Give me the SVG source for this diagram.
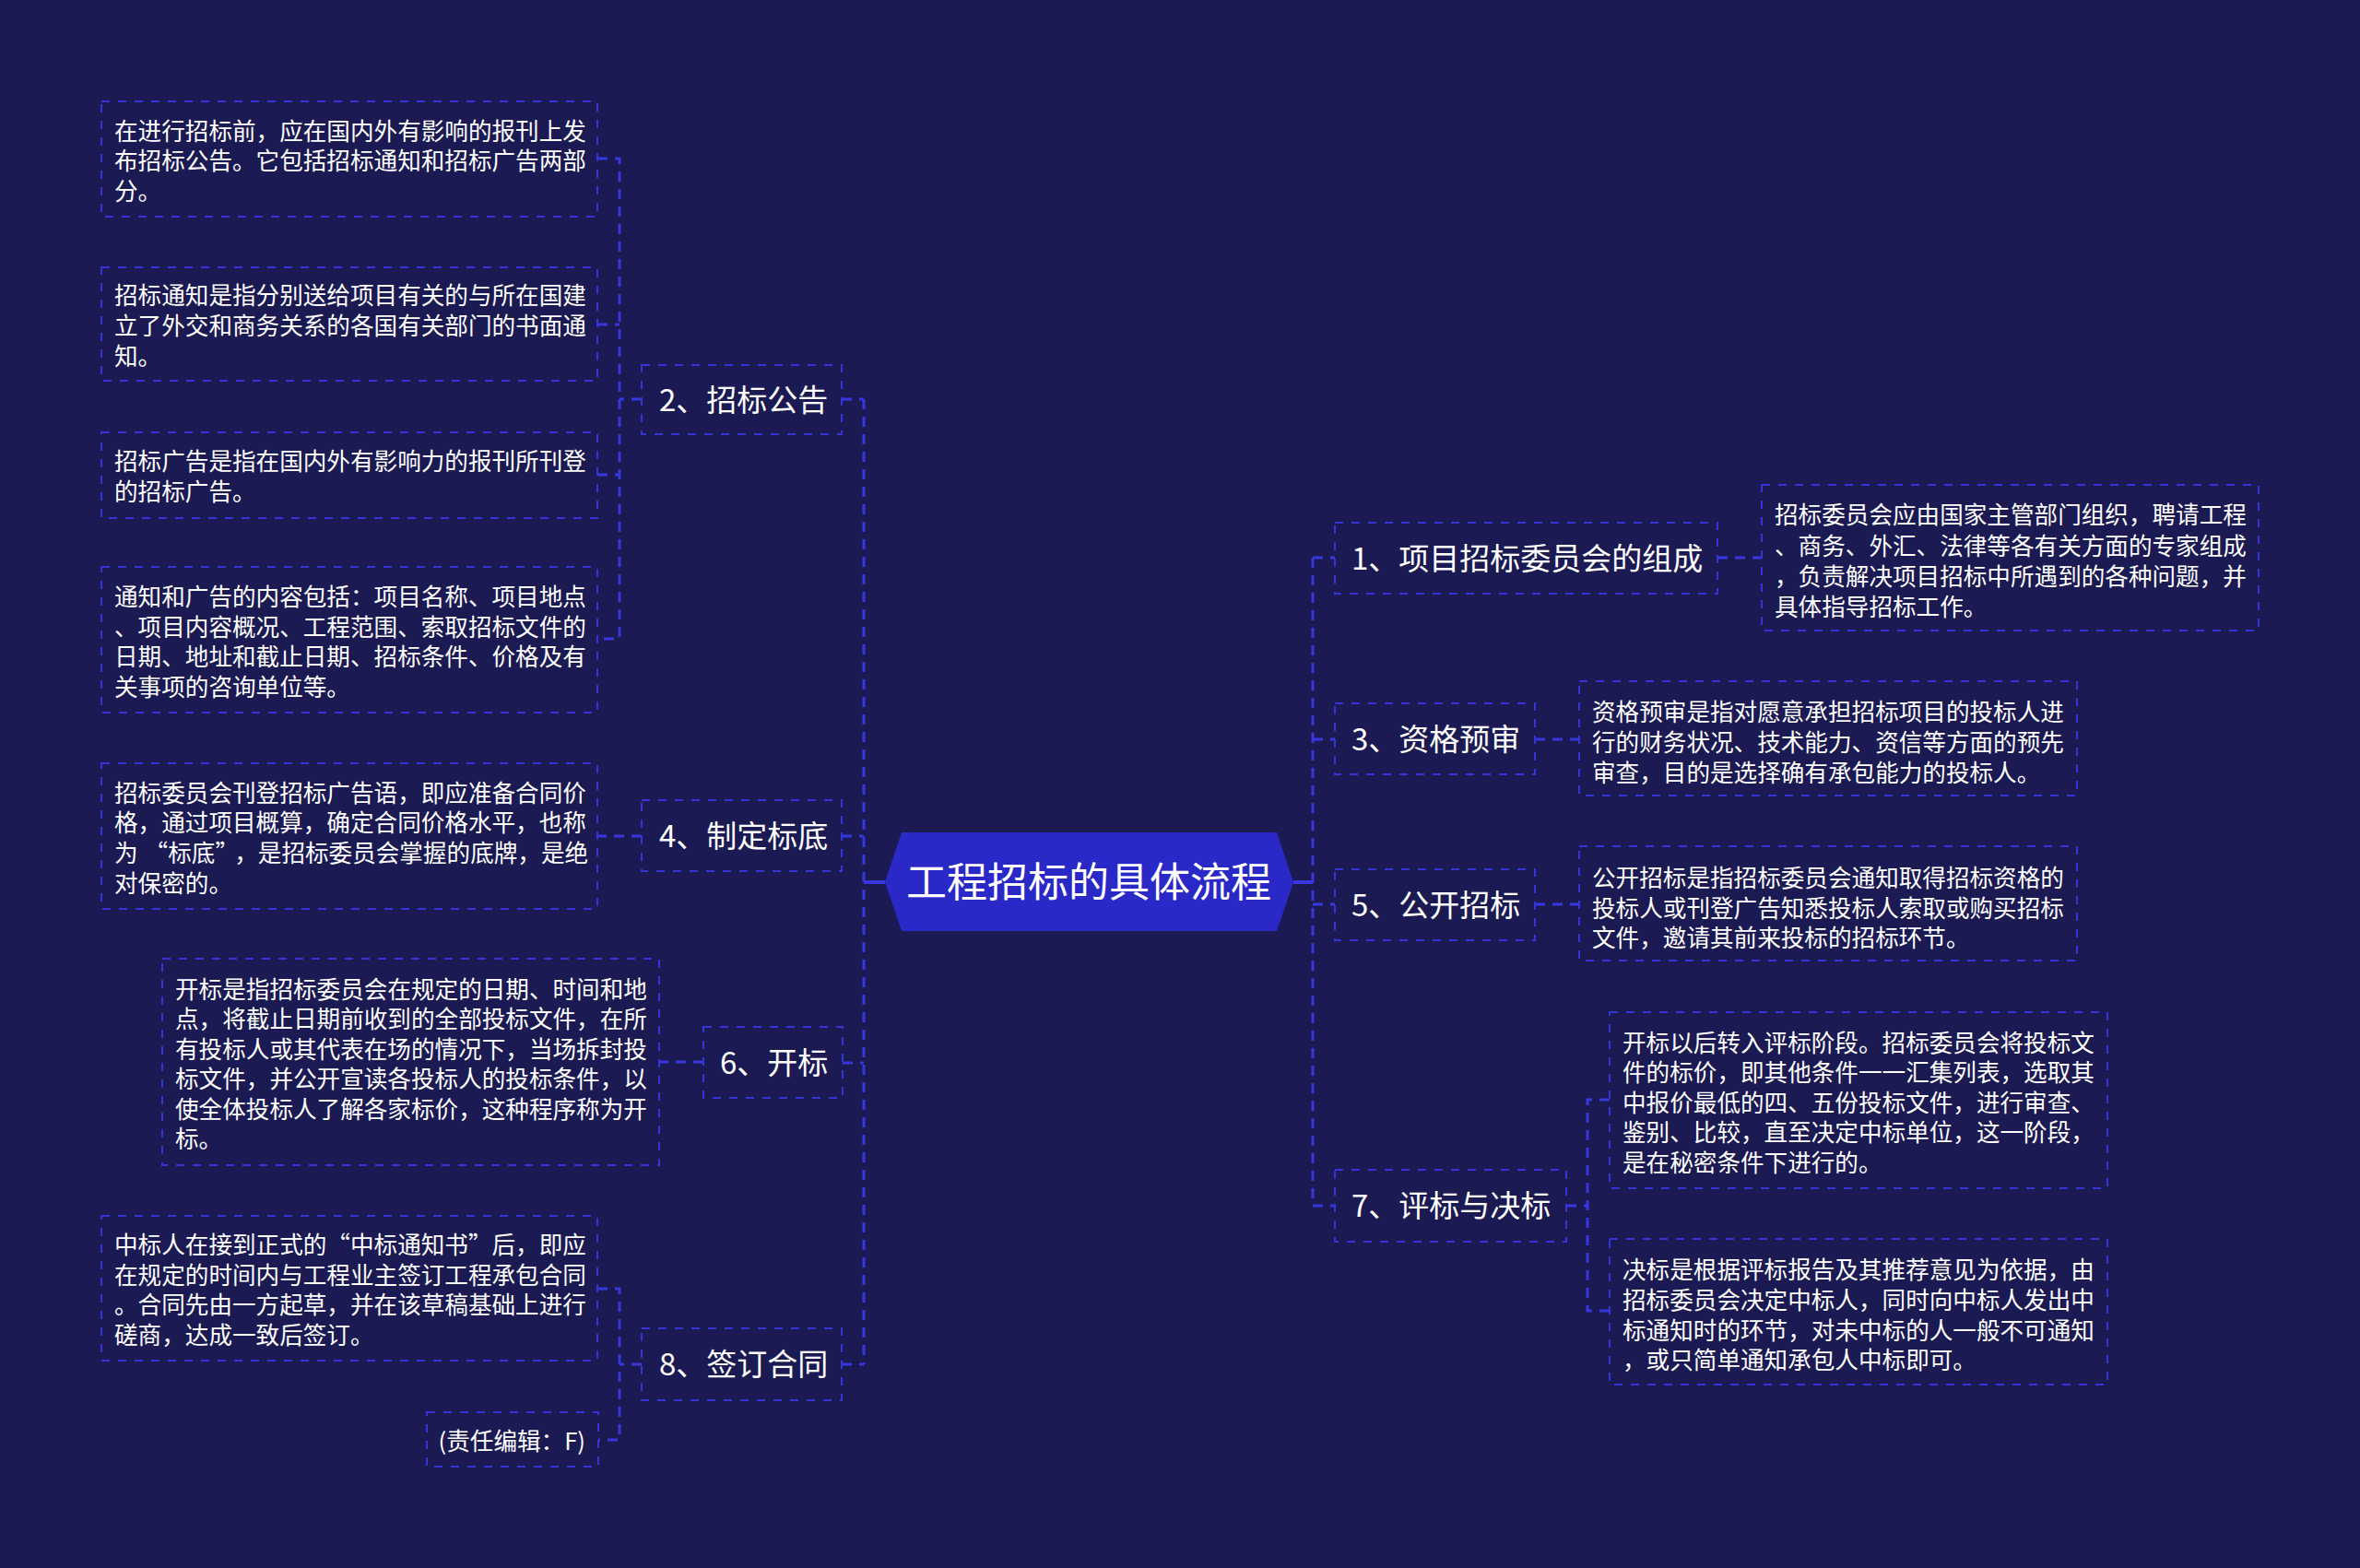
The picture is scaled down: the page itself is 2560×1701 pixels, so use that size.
<svg xmlns="http://www.w3.org/2000/svg" width="2560" height="1701" viewBox="0 0 2560 1701">
<style>
.bg{fill:#1b1a52}
.box{fill:none;stroke:#3434d8;stroke-width:2;stroke-dasharray:9 9}
.con{fill:none;stroke:#3737e0;stroke-width:3;stroke-dasharray:11 8}
.solid{fill:none;stroke:#3737e0;stroke-width:4}
.leaf{font-family:"Noto Sans CJK SC","Noto Sans",sans-serif;font-size:25.6px;fill:#ffffff}
.l1{font-family:"Noto Sans CJK SC","Noto Sans",sans-serif;font-size:33px;fill:#ffffff}
.root{font-family:"Noto Sans CJK SC","Noto Sans",sans-serif;font-size:44px;fill:#ffffff}
</style>
<rect class="bg" x="0" y="0" width="2560" height="1701"/>

<g id="connectors">
<path class="solid" d="M960,957 H937"/>
<path class="solid" d="M1403,957 H1424"/>
<path class="con" d="M937,433 V1480"/>
<path class="con" d="M913,433 H937"/>
<path class="con" d="M913,907 H937"/>
<path class="con" d="M914,1153 H937"/>
<path class="con" d="M913,1480 H937"/>
<path class="con" d="M696,433 H672"/>
<path class="con" d="M648,172 H672 V693 H648"/>
<path class="con" d="M648,352 H672"/>
<path class="con" d="M648,515 H672"/>
<path class="con" d="M696,907 H648"/>
<path class="con" d="M763,1152 H715"/>
<path class="con" d="M696,1480 H672"/>
<path class="con" d="M648,1398 H672 V1562 H649"/>
<path class="con" d="M1424,605 V1308"/>
<path class="con" d="M1424,605 H1448"/>
<path class="con" d="M1424,802 H1448"/>
<path class="con" d="M1424,981 H1448"/>
<path class="con" d="M1424,1308 H1448"/>
<path class="con" d="M1863,605 H1911"/>
<path class="con" d="M1665,802 H1713"/>
<path class="con" d="M1665,981 H1713"/>
<path class="con" d="M1699,1308 H1722"/>
<path class="con" d="M1746,1193 H1722 V1422 H1746"/>
</g>

<g id="root">
<polygon points="960,957 978,903 1385,903 1403,957 1385,1010 978,1010" fill="#2a29c8"/>
<text class="root" x="1181" y="973" text-anchor="middle">工程招标的具体流程</text>
</g>

<g id="n2">
<rect class="box" x="696" y="396" width="217" height="75"/>
<text class="l1" x="715" y="446">2、招标公告</text>
</g>
<g id="n4">
<rect class="box" x="696" y="868" width="217" height="77"/>
<text class="l1" x="715" y="919">4、制定标底</text>
</g>
<g id="n6">
<rect class="box" x="763" y="1114" width="151" height="77"/>
<text class="l1" x="781" y="1165">6、开标</text>
</g>
<g id="n8">
<rect class="box" x="696" y="1441" width="217" height="78"/>
<text class="l1" x="715" y="1492">8、签订合同</text>
</g>
<g id="n1">
<rect class="box" x="1448" y="567" width="415" height="77"/>
<text class="l1" x="1466" y="618">1、项目招标委员会的组成</text>
</g>
<g id="n3">
<rect class="box" x="1448" y="763" width="217" height="77"/>
<text class="l1" x="1466" y="814">3、资格预审</text>
</g>
<g id="n5">
<rect class="box" x="1448" y="943" width="217" height="77"/>
<text class="l1" x="1466" y="994">5、公开招标</text>
</g>
<g id="n7">
<rect class="box" x="1448" y="1269" width="251" height="78"/>
<text class="l1" x="1466" y="1320">7、评标与决标</text>
</g>

<g id="leafA">
<rect class="box" x="110" y="110" width="538" height="125"/>
<text class="leaf"><tspan x="124" y="151.5">在进行招标前，应在国内外有影响的报刊上发</tspan><tspan x="124" y="184">布招标公告。它包括招标通知和招标广告两部</tspan><tspan x="124" y="216.5">分。</tspan></text>
</g>
<g id="leafB">
<rect class="box" x="110" y="290" width="538" height="123"/>
<text class="leaf"><tspan x="124" y="329.5">招标通知是指分别送给项目有关的与所在国建</tspan><tspan x="124" y="362.5">立了外交和商务关系的各国有关部门的书面通</tspan><tspan x="124" y="395.5">知。</tspan></text>
</g>
<g id="leafC">
<rect class="box" x="110" y="469" width="538" height="93"/>
<text class="leaf"><tspan x="124" y="509.5">招标广告是指在国内外有影响力的报刊所刊登</tspan><tspan x="124" y="542.5">的招标广告。</tspan></text>
</g>
<g id="leafD">
<rect class="box" x="110" y="615" width="538" height="158"/>
<text class="leaf"><tspan x="124" y="656.5">通知和广告的内容包括：项目名称、项目地点</tspan><tspan x="124" y="689.5">、项目内容概况、工程范围、索取招标文件的</tspan><tspan x="124" y="721.5">日期、地址和截止日期、招标条件、价格及有</tspan><tspan x="124" y="754.5">关事项的咨询单位等。</tspan></text>
</g>
<g id="leafE">
<rect class="box" x="110" y="828" width="538" height="158"/>
<text class="leaf"><tspan x="124" y="869.5">招标委员会刊登招标广告语，即应准备合同价</tspan><tspan x="124" y="901.5">格，通过项目概算，确定合同价格水平，也称</tspan><tspan x="124" y="934.5">为</tspan><tspan dx="7">“标底”</tspan><tspan dx="8">，是招标委员会掌握的底牌，是绝</tspan><tspan x="124" y="967.5">对保密的。</tspan></text>
</g>
<g id="leafF">
<rect class="box" x="176" y="1040" width="539" height="224"/>
<text class="leaf"><tspan x="190" y="1082.5">开标是指招标委员会在规定的日期、时间和地</tspan><tspan x="190" y="1114.5">点，将截止日期前收到的全部投标文件，在所</tspan><tspan x="190" y="1147.5">有投标人或其代表在场的情况下，当场拆封投</tspan><tspan x="190" y="1179.5">标文件，并公开宣读各投标人的投标条件，以</tspan><tspan x="190" y="1212.5">使全体投标人了解各家标价，这种程序称为开</tspan><tspan x="190" y="1244.5">标。</tspan></text>
</g>
<g id="leafG">
<rect class="box" x="110" y="1319" width="538" height="157"/>
<text class="leaf"><tspan x="124" y="1359.5">中标人在接到正式的“中标通知书”后，即应</tspan><tspan x="124" y="1392.5">在规定的时间内与工程业主签订工程承包合同</tspan><tspan x="124" y="1424.5">。合同先由一方起草，并在该草稿基础上进行</tspan><tspan x="124" y="1457.5">磋商，达成一致后签订。</tspan></text>
</g>
<g id="leafH">
<rect class="box" x="463" y="1532" width="186" height="59"/>
<text class="leaf" x="635" y="1572.5" text-anchor="end">(责任编辑：F)</text>
</g>

<g id="leaf1">
<rect class="box" x="1911" y="526" width="539" height="158"/>
<text class="leaf"><tspan x="1925" y="567.5">招标委员会应由国家主管部门组织，聘请工程</tspan><tspan x="1925" y="601.5">、商务、外汇、法律等各有关方面的专家组成</tspan><tspan x="1925" y="634.5">，负责解决项目招标中所遇到的各种问题，并</tspan><tspan x="1925" y="667.5">具体指导招标工作。</tspan></text>
</g>
<g id="leaf3">
<rect class="box" x="1713" y="739" width="540" height="124"/>
<text class="leaf"><tspan x="1727" y="781.5">资格预审是指对愿意承担招标项目的投标人进</tspan><tspan x="1727" y="814.5">行的财务状况、技术能力、资信等方面的预先</tspan><tspan x="1727" y="847.5">审查，目的是选择确有承包能力的投标人。</tspan></text>
</g>
<g id="leaf5">
<rect class="box" x="1713" y="918" width="540" height="124"/>
<text class="leaf"><tspan x="1727" y="961.5">公开招标是指招标委员会通知取得招标资格的</tspan><tspan x="1727" y="994.5">投标人或刊登广告知悉投标人索取或购买招标</tspan><tspan x="1727" y="1026.5">文件，邀请其前来投标的招标环节。</tspan></text>
</g>
<g id="leaf7a">
<rect class="box" x="1746" y="1098" width="540" height="191"/>
<text class="leaf"><tspan x="1760" y="1140.5">开标以后转入评标阶段。招标委员会将投标文</tspan><tspan x="1760" y="1173">件的标价，即其他条件一一汇集列表，选取其</tspan><tspan x="1760" y="1205.5">中报价最低的四、五份投标文件，进行审查、</tspan><tspan x="1760" y="1238">鉴别、比较，直至决定中标单位，这一阶段，</tspan><tspan x="1760" y="1270.5">是在秘密条件下进行的。</tspan></text>
</g>
<g id="leaf7b">
<rect class="box" x="1746" y="1344" width="540" height="158"/>
<text class="leaf"><tspan x="1760" y="1386.5">决标是根据评标报告及其推荐意见为依据，由</tspan><tspan x="1760" y="1419.5">招标委员会决定中标人，同时向中标人发出中</tspan><tspan x="1760" y="1452.5">标通知时的环节，对未中标的人一般不可通知</tspan><tspan x="1760" y="1484.5">，或只简单通知承包人中标即可。</tspan></text>
</g>
</svg>
